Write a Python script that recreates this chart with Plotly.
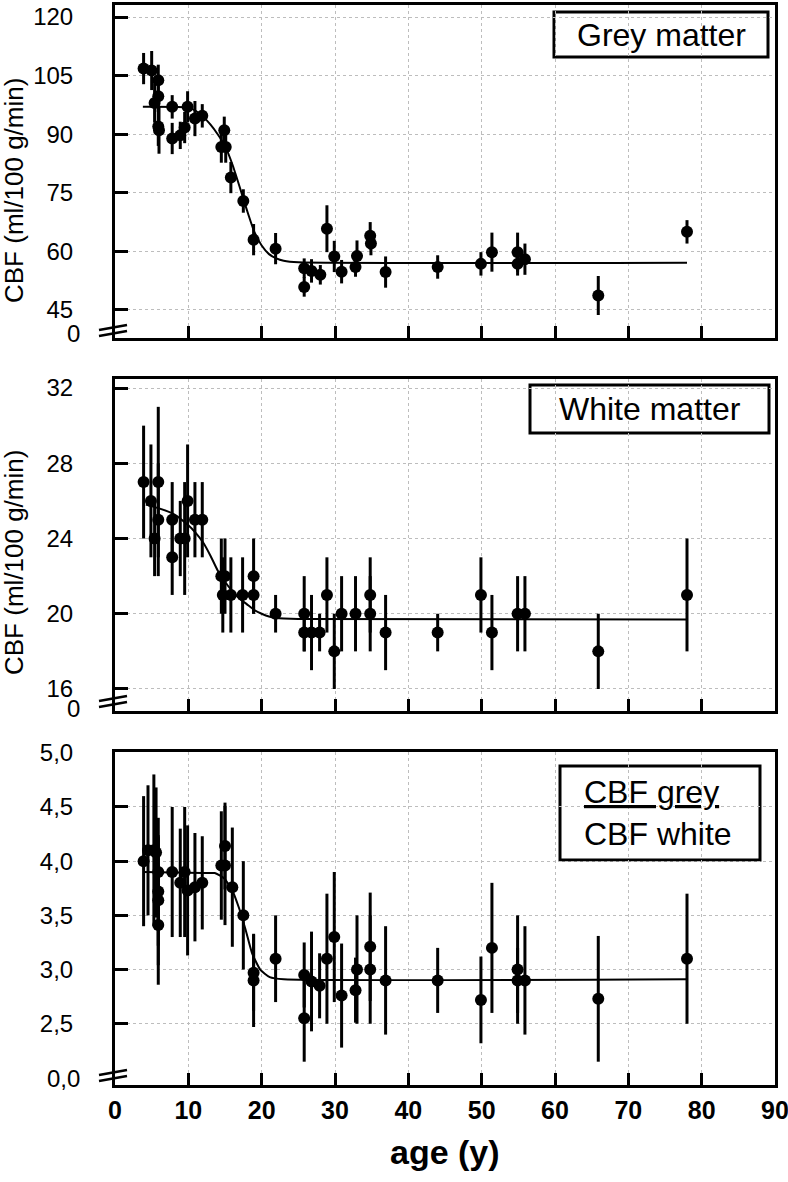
import plotly.graph_objects as go

# ---------------- data ----------------
grey_age = [3.9, 5.0, 5.9, 5.9, 5.4, 5.9, 6.0, 7.8, 7.8, 8.9, 9.5, 9.9, 10.9, 11.9, 14.9, 14.5,
            15.1, 15.8, 17.5, 18.9, 21.9, 25.8, 25.8, 26.8, 28.0, 28.9, 29.9, 30.9, 32.8, 33.0,
            34.8, 34.9, 36.9, 44.0, 49.9, 51.4, 54.9, 54.9, 55.9, 65.9, 78.0]
grey_cbf = [106.8, 106.3, 103.8, 99.7, 98.0, 92.0, 91.0, 97.0, 88.9, 89.7, 91.7, 97.0, 94.0, 94.7,
            91.0, 86.7, 86.7, 78.9, 72.9, 63.0, 60.7, 55.7, 50.9, 55.0, 54.0, 65.8, 58.7, 54.8,
            56.0, 58.8, 64.0, 62.0, 54.7, 56.0, 56.8, 59.8, 59.8, 56.8, 58.0, 48.7, 65.0]
grey_err = [4, 5, 4, 4, 5, 5, 6, 3, 4, 3.5, 4, 4, 4.5, 3, 3.5, 4, 4, 4, 3, 4, 4, 2.5, 2.5, 3,
            2.5, 6, 4, 3, 2.5, 4, 3.5, 3, 4, 3, 3, 5, 5, 3, 4, 5, 3]
grey_fit_age = [3.8, 10.0, 11.0, 12.0, 13.0, 14.0, 15.0, 16.0, 17.0, 18.0, 19.0, 20.0, 21.0,
                22.0, 23.0, 25.0, 78.0]
grey_fit_val = [97.0, 96.8, 96.0, 94.5, 92.5, 90.0, 87.0, 82.3, 76.5, 70.5, 65.0, 61.5, 59.3,
                58.2, 57.6, 57.2, 57.1]

white_age = [3.9, 4.9, 5.9, 5.9, 5.4, 7.8, 7.8, 8.9, 9.5, 9.9, 10.9, 11.9, 14.5, 15.0, 14.7,
             15.8, 17.4, 18.9, 18.9, 21.9, 25.8, 25.8, 26.8, 27.9, 28.9, 29.9, 30.9, 32.8,
             34.8, 34.8, 36.9, 44.0, 49.9, 51.4, 54.9, 55.9, 65.9, 78.0]
white_cbf = [27, 26, 27, 25, 24, 25, 23, 24, 24, 26, 25, 25, 22, 22, 21, 21, 21, 22, 21, 20,
             20, 19, 19, 19, 21, 18, 20, 20, 21, 20, 19, 19, 21, 19, 20, 20, 18, 21]
white_err = [3, 3, 4, 3, 2, 2, 2, 2, 3, 3, 2, 2, 2, 2, 2, 2, 2, 2, 1, 1, 2, 1, 2, 1, 2, 2,
             2, 2, 2, 2, 2, 1, 2, 2, 2, 2, 2, 3]
white_fit_age = [4.2, 6.0, 8.0, 10.0, 11.0, 12.0, 13.0, 14.0, 15.0, 16.0, 17.0, 18.0, 19.0,
                 20.0, 21.0, 22.0, 23.0, 25.0, 78.0]
white_fit_val = [25.8, 25.6, 25.3, 24.7, 24.3, 23.8, 23.1, 22.3, 21.7, 21.2, 20.8, 20.5, 20.2,
                 20.0, 19.85, 19.78, 19.75, 19.72, 19.7]

ratio_age = [3.9, 4.5, 5.3, 5.6, 5.9, 5.9, 5.9, 5.9, 7.8, 8.9, 9.5, 9.9, 10.9, 11.9, 14.5,
             15.0, 15.0, 16.0, 17.5, 18.9, 18.9, 21.9, 25.8, 25.8, 26.8, 27.9, 28.9, 29.9,
             30.9, 32.8, 33.0, 34.8, 34.8, 36.9, 44.0, 49.9, 51.4, 54.9, 54.9, 55.9, 65.9, 78.0]
ratio_val = [4.0, 4.1, 4.1, 4.08, 3.9, 3.72, 3.64, 3.41, 3.9, 3.8, 3.9, 3.73, 3.76, 3.8, 3.96,
             4.14, 3.96, 3.76, 3.5, 2.97, 2.9, 3.1, 2.55, 2.95, 2.89, 2.85, 3.1, 3.3, 2.76,
             2.81, 3.0, 3.21, 3.0, 2.9, 2.9, 2.72, 3.2, 3.0, 2.9, 2.9, 2.73, 3.1]
ratio_err = [0.6, 0.6, 0.7, 0.6, 0.5, 0.5, 0.6, 0.55, 0.6, 0.5, 0.6, 0.6, 0.5, 0.43, 0.5, 0.4,
             0.55, 0.55, 0.5, 0.35, 0.43, 0.4, 0.4, 0.3, 0.46, 0.3, 0.6, 0.6, 0.48, 0.3, 0.5,
             0.5, 0.5, 0.5, 0.3, 0.4, 0.6, 0.5, 0.3, 0.5, 0.58, 0.6]
ratio_fit_age = [3.9, 12.0, 13.6, 14.9, 16.0, 16.9, 17.8, 18.7, 19.8, 21.1, 23.0, 78.0]
ratio_fit_val = [3.9, 3.89, 3.89, 3.84, 3.73, 3.57, 3.37, 3.15, 3.0, 2.93, 2.91, 2.91]

x_ticks = [0, 10, 20, 30, 40, 50, 60, 70, 80, 90]
grey_ticks = [45, 60, 75, 90, 105, 120]
white_ticks = [16, 20, 24, 28, 32]
ratio_ticks = [2.5, 3.0, 3.5, 4.0, 4.5, 5.0]
ratio_ticktext = ["2,5", "3,0", "3,5", "4,0", "4,5", "5,0"]
break_labels = ["0", "0", "0,0"]
panel_labels = ["Grey matter", "White matter", "<u>CBF grey</u><br>CBF white"]
y_title = "CBF (ml/100 g/min)"
x_title = "age (y)"

# ---------------- layout helpers ----------------
W, H = 788, 1182
FONT = "Liberation Sans, Arial, sans-serif"


def px(x):
    return x / W


def py(y):
    return 1 - y / H


x_dom = [px(115), px(775)]
y_doms = [[py(338), py(5)], [py(711), py(379)], [py(1085), py(752)]]
y_ranges = [[37.82, 123.08], [14.83, 32.48], [1.935, 5.007]]

fig = go.Figure()

panels = [
    (grey_age, grey_cbf, grey_err, grey_fit_age, grey_fit_val),
    (white_age, white_cbf, white_err, white_fit_age, white_fit_val),
    (ratio_age, ratio_val, ratio_err, ratio_fit_age, ratio_fit_val),
]
for i, (ax, ay, ae, fx, fy) in enumerate(panels):
    xa = "x" if i == 0 else f"x{i+1}"
    ya = "y" if i == 0 else f"y{i+1}"
    fig.add_trace(go.Scatter(x=fx, y=fy, mode="lines", xaxis=xa, yaxis=ya,
                             line=dict(color="black", width=2, shape="spline", smoothing=0.5),
                             showlegend=False, hoverinfo="skip"))
    fig.add_trace(go.Scatter(x=ax, y=ay, mode="markers", xaxis=xa, yaxis=ya,
                             marker=dict(color="black", size=12),
                             error_y=dict(type="data", array=ae, visible=True, color="black",
                                          thickness=3, width=0),
                             showlegend=False))

common_axis = dict(showline=True, linewidth=3, linecolor="black", mirror=True,
                   ticks="inside", tickwidth=3, tickcolor="black", zeroline=False,
                   showgrid=True, gridcolor="#bdbdbd", griddash="dot", gridwidth=1,
                   automargin=False)

layout = dict(width=W, height=H, margin=dict(l=0, r=0, t=0, b=0, autoexpand=False),
              plot_bgcolor="white", paper_bgcolor="white",
              font=dict(family=FONT, color="black"), showlegend=False)

ytickvals = [grey_ticks, white_ticks, ratio_ticks]
yticktext = [[str(v) for v in grey_ticks], [str(v) for v in white_ticks], ratio_ticktext]
for i in range(3):
    sx = "" if i == 0 else str(i + 1)
    layout["xaxis" + sx] = dict(common_axis, domain=x_dom, range=[0, 90], tickvals=x_ticks,
                                ticklen=12, anchor="y" + sx,
                                showticklabels=(i == 2), ticklabeloverflow="allow",
                                tickfont=dict(size=25, family=FONT, weight="bold"),
                                ticklabelstandoff=1)
    layout["yaxis" + sx] = dict(common_axis, domain=y_doms[i], range=y_ranges[i],
                                tickvals=ytickvals[i], ticktext=yticktext[i], ticklen=13,
                                anchor="x" + sx, tickfont=dict(size=24, family=FONT),
                                ticklabelstandoff=34)

fig.update_layout(**layout)

# break marks and "0" labels
break_y = [330, 701, 1075]
label_y = [333, 708, 1078]
shapes = []
annotations = []
for i in range(3):
    c = break_y[i]
    for off in (0, 6):
        shapes.append(dict(type="line", xref="paper", yref="paper",
                           x0=px(99), y0=py(c + off), x1=px(127), y1=py(c + off - 5),
                           line=dict(color="black", width=2.5)))
    annotations.append(dict(text=break_labels[i], xref="paper", yref="paper",
                            x=px(82), y=py(label_y[i]), xanchor="right", yanchor="middle",
                            showarrow=False, font=dict(size=24, family=FONT)))

# label boxes
boxes = [(554, 12, 768, 57), (530, 385, 769, 433), (560, 766, 760, 860)]
for i, (x0, y0, x1, y1) in enumerate(boxes):
    shapes.append(dict(type="rect", xref="paper", yref="paper",
                       x0=px(x0), y0=py(y1), x1=px(x1), y1=py(y0),
                       line=dict(color="black", width=3), fillcolor="white", layer="below"))
annotations.append(dict(text=panel_labels[0], xref="paper", yref="paper", x=px(661), y=py(35),
                        xanchor="center", yanchor="middle",
                        showarrow=False, font=dict(size=32, family=FONT)))
annotations.append(dict(text=panel_labels[1], xref="paper", yref="paper", x=px(650), y=py(409),
                        xanchor="center", yanchor="middle",
                        showarrow=False, font=dict(size=32, family=FONT)))
annotations.append(dict(text=panel_labels[2], xref="paper", yref="paper", x=px(582), y=py(813),
                        xanchor="left", yanchor="middle", align="left", showarrow=False,
                        font=dict(size=32, family=FONT)))

# axis titles
annotations.append(dict(text=y_title, xref="paper", yref="paper", x=px(14), y=py(191),
                        xanchor="center", yanchor="middle",
                        textangle=-90, showarrow=False, font=dict(size=26, family=FONT)))
annotations.append(dict(text=y_title, xref="paper", yref="paper", x=px(14), y=py(563),
                        xanchor="center", yanchor="middle",
                        textangle=-90, showarrow=False, font=dict(size=26, family=FONT)))
annotations.append(dict(text=x_title, xref="paper", yref="paper", x=px(445), y=py(1152),
                        xanchor="center", yanchor="middle",
                        showarrow=False, font=dict(size=34, family=FONT, weight="bold")))

fig.update_layout(shapes=shapes, annotations=annotations)
fig.write_html("out.html", config={"displayModeBar": False},
               post_script="document.body.style.margin='0px';")
